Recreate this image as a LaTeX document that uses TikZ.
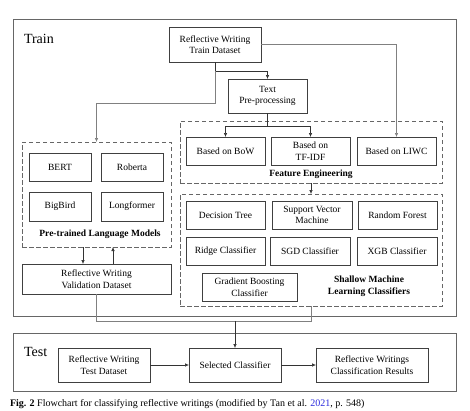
\documentclass[tikz,border=0pt]{standalone}
\usepackage{fontspec}
\setmainfont{Liberation Serif}
\usetikzlibrary{arrows.meta,positioning}
\definecolor{capblue}{RGB}{40,40,220}
\begin{document}
\begin{tikzpicture}[x=1pt,y=-1pt,
  every node/.style={inner sep=0pt, outer sep=0pt},
  box/.style={draw=black!75, line width=0.75pt, fill=white, align=center,
    font=\fontsize{9.5}{11.5}\selectfont, minimum height=28pt},
  region/.style={draw=black!60, line width=0.8pt},
  dbox/.style={draw=black!60, line width=0.9pt, dash pattern=on 4.5pt off 2.5pt},
  lbl/.style={font=\fontsize{9.5}{11.5}\selectfont\bfseries, align=center},
  big/.style={font=\fontsize{14}{16}\selectfont},
  conn/.style={draw=black!80, line width=0.6pt, -{Latex[length=4pt,width=3.5pt]}},
  gconn/.style={draw=black!50, line width=0.6pt, -{Latex[length=4pt,width=3.5pt]}},
  gline/.style={draw=black!50, line width=0.6pt}]
\useasboundingbox (0,0) rectangle (470,410);
% regions
\draw[region] (13,19) rectangle (456,316);
\draw[region] (13,333) rectangle (456,391);
\node[big, anchor=west] (train) at (24,39) {Train};
\node[big, anchor=west] (test) at (24,352) {Test};
% dashed groups
\node[dbox, minimum width=262pt, minimum height=62pt] (FE) at (311,152) {};
\node[dbox, minimum width=262pt, minimum height=112pt] (SML) at (311,250) {};
\node[dbox, minimum width=149pt, minimum height=105pt] (PLM) at (96.5,194.5) {};
% main boxes
\node[box, minimum width=92pt, minimum height=35pt] (TD) at (215,44.5) {Reflective Writing\\Train Dataset};
\node[box, minimum width=79pt, minimum height=34pt] (TP) at (267.5,96) {Text\\Pre-processing};
\node[box, minimum width=79pt] (BoW) at (225.5,151) {Based on BoW};
\node[box, minimum width=79pt] (TFIDF) at (310.5,151) {Based on\\TF-IDF};
\node[box, minimum width=79pt] (LIWC) at (396.5,151) {Based on LIWC};
\node[lbl] (FEl) at (311,174) {Feature Engineering};
\node[box, minimum width=79pt] (DT) at (225.5,215) {Decision Tree};
\node[box, minimum width=80pt] (SVM) at (312,215) {Support Vector\\Machine};
\node[box, minimum width=79pt] (RF) at (397.5,215) {Random Forest};
\node[box, minimum width=79pt] (RC) at (225.5,251) {Ridge Classifier};
\node[box, minimum width=80pt] (SGD) at (310,251) {SGD Classifier};
\node[box, minimum width=80pt] (XGB) at (397,251) {XGB Classifier};
\node[box, minimum width=95pt] (GB) at (249.5,287) {Gradient Boosting\\Classifier};
\node[lbl] (SMLl) at (369,286) {Shallow Machine\\Learning Classifiers};
\node[box, minimum width=62pt] (BERT) at (60,167) {BERT};
\node[box, minimum width=62pt] (RoB) at (132,167) {Roberta};
\node[box, minimum width=62pt, minimum height=29pt] (BB) at (60,206.5) {BigBird};
\node[box, minimum width=62pt, minimum height=29pt] (LF) at (132,206.5) {Longformer};
\node[lbl] (PLMl) at (100,234) {Pre-trained Language Models};
\node[box, minimum width=149pt, minimum height=30pt] (Val) at (96.5,279) {Reflective Writing\\Validation Dataset};
\node[box, minimum width=92pt, minimum height=34pt] (TeD) at (104,365) {Reflective Writing\\Test Dataset};
\node[box, minimum width=92pt, minimum height=34pt] (Sel) at (235,365) {Selected Classifier};
\node[box, minimum width=112pt, minimum height=34pt] (Res) at (372,365) {Reflective Writings\\Classification Results};
% connectors
\coordinate (c1) at (215,71);
\coordinate (c2) at (215,103);
\coordinate (c3) at (267.5,126);
\coordinate (m) at (235,321);
\draw[conn] (TD.south) -- (c1) -| (TP.north);
\draw[gconn] (c1) -- (c2) -| (PLM.north);
\draw[gconn] (TD.east) -| (LIWC.north);
\draw[conn] (TP.south) -- (c3) -| (BoW.north);
\draw[conn] (c3) -| (TFIDF.north);
\draw[conn] (FE.south) -- (SML.north);
\draw[conn] ([xshift=-13.5pt]PLM.south) -- ([xshift=-13.5pt]Val.north);
\draw[conn] ([xshift=16.5pt]Val.north) -- ([xshift=16.5pt]PLM.south);
\draw[gline] (Val.south) |- (m);
\draw[gline] (SML.south) |- (m);
\draw[conn] (m) -- (Sel.north);
\draw[conn] (TeD.east) -- (Sel.west);
\draw[conn] (Sel.east) -- (Res.west);
% caption
\node[anchor=base west, font=\fontsize{10}{12}\selectfont] (cap) at (10,406.5)
  {\textbf{Fig. 2} Flowchart for classifying reflective writings (modified by Tan et al. \textcolor{capblue}{2021}, p. 548)};
\end{tikzpicture}
\end{document}
